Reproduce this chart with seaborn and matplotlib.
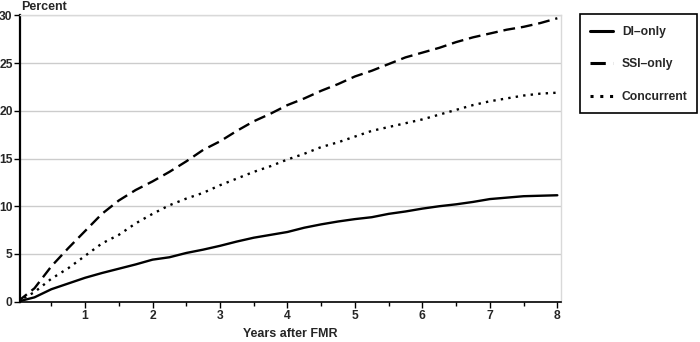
import matplotlib
matplotlib.use("Agg")
import matplotlib.pyplot as plt
from matplotlib.ticker import MultipleLocator
from matplotlib.patches import Rectangle
import seaborn as sns
import pandas as pd

years = [0, 0.25, 0.5, 0.75, 1.0, 1.25, 1.5, 1.75, 2.0, 2.25, 2.5, 2.75, 3.0, 3.25,
         3.5, 3.75, 4.0, 4.25, 4.5, 4.75, 5.0, 5.25, 5.5, 5.75, 6.0, 6.25, 6.5, 6.75,
         7.0, 7.25, 7.5, 7.75, 8.0]
di_only = [0, 0.45, 1.3, 1.9, 2.5, 3.0, 3.45, 3.9, 4.4, 4.65, 5.1, 5.45, 5.85, 6.3,
           6.7, 7.0, 7.3, 7.75, 8.1, 8.4, 8.65, 8.85, 9.2, 9.45, 9.75, 10.0, 10.2, 10.45,
           10.75, 10.9, 11.05, 11.1, 11.15]
ssi_only = [0, 1.4, 3.7, 5.6, 7.4, 9.2, 10.6, 11.7, 12.6, 13.6, 14.7, 15.9, 16.8, 17.9,
            18.9, 19.7, 20.6, 21.3, 22.1, 22.8, 23.6, 24.2, 24.9, 25.6, 26.1, 26.6, 27.2,
            27.7, 28.1, 28.5, 28.8, 29.2, 29.7]
concurrent = [0, 1.0, 2.4, 3.5, 4.8, 6.1, 7.0, 8.2, 9.2, 10.1, 10.8, 11.4, 12.2, 12.9,
              13.6, 14.2, 14.9, 15.5, 16.2, 16.7, 17.3, 17.9, 18.3, 18.7, 19.1, 19.6,
              20.1, 20.6, 21.0, 21.3, 21.6, 21.8, 21.9]
series_names = ["DI\u2013only", "SSI\u2013only", "Concurrent"]
y_ticks = [0, 5, 10, 15, 20, 25, 30]
x_ticks = [1, 2, 3, 4, 5, 6, 7, 8]

df = pd.concat([
    pd.DataFrame({"year": years, "pct": vals, "group": name})
    for name, vals in zip(series_names, [di_only, ssi_only, concurrent])
])

sns.set_style("white")
plt.rcParams["font.family"] = ["Liberation Sans", "DejaVu Sans"]
plt.rcParams["font.weight"] = "bold"

W, H = 700, 342
fig = plt.figure(figsize=(7, 3.42), dpi=100)
ax = fig.add_axes([0.029, 0.118, 0.772, 0.837])

dashes = {series_names[0]: "", series_names[1]: (5, 2.5), series_names[2]: (1, 2.2)}
palette = {n: "black" for n in series_names}
sns.lineplot(data=df, x="year", y="pct", hue="group", style="group",
             dashes=dashes, palette=palette, linewidth=1.7, ax=ax, legend=True)

ax.set_xlim(0.04, 8.05)
ax.set_ylim(0, 30)
ax.set_yticks(y_ticks)
ax.set_xticks(x_ticks)
ax.xaxis.set_minor_locator(MultipleLocator(0.5))
ax.yaxis.grid(True, color="#cccccc", linewidth=1)
ax.xaxis.grid(False)
ax.set_axisbelow(True)
for s in ["top", "right"]:
    ax.spines[s].set_color("#d9d9d9")
    ax.spines[s].set_linewidth(1)
for s in ["left", "bottom"]:
    ax.spines[s].set_color("black")
ax.spines["left"].set_linewidth(1.6)
ax.spines["bottom"].set_linewidth(1.2)
ax.tick_params(axis="both", which="major", direction="out", length=4, width=1,
               color="black", labelsize=8.7, pad=1.5, bottom=True, left=True)
ax.tick_params(axis="x", which="minor", direction="out", length=3, width=1,
               color="black", bottom=True)
ax.tick_params(axis="x", pad=2)
for lab in ax.get_xticklabels() + ax.get_yticklabels():
    lab.set_fontweight("bold")
ax.set_xlabel("Years after FMR", fontsize=9, fontweight="bold", labelpad=4)
ax.set_ylabel("")
fig.text(0.03, 0.962, "Percent", fontsize=9, fontweight="bold", ha="left", va="bottom")

handles, labels = ax.get_legend_handles_labels()
ax.get_legend().remove()
leg = fig.legend(handles, labels, loc="upper left",
                 bbox_to_anchor=(590.0 / W, 1 - 25.8 / H),
                 frameon=False, fontsize=8.7,
                 handlelength=1.88, handletextpad=0.75, labelspacing=1.71, borderpad=0,
                 borderaxespad=0)
for t in leg.get_texts():
    t.set_fontweight("bold")
for l in leg.get_lines():
    l.set_linewidth(2.2)
fig.patches.append(Rectangle((579.5 / W, 1 - 113.3 / H), 117.8 / W, 99.3 / H,
                             transform=fig.transFigure, fill=False,
                             edgecolor="black", linewidth=1.2))

fig.savefig("out.png", dpi=100)
